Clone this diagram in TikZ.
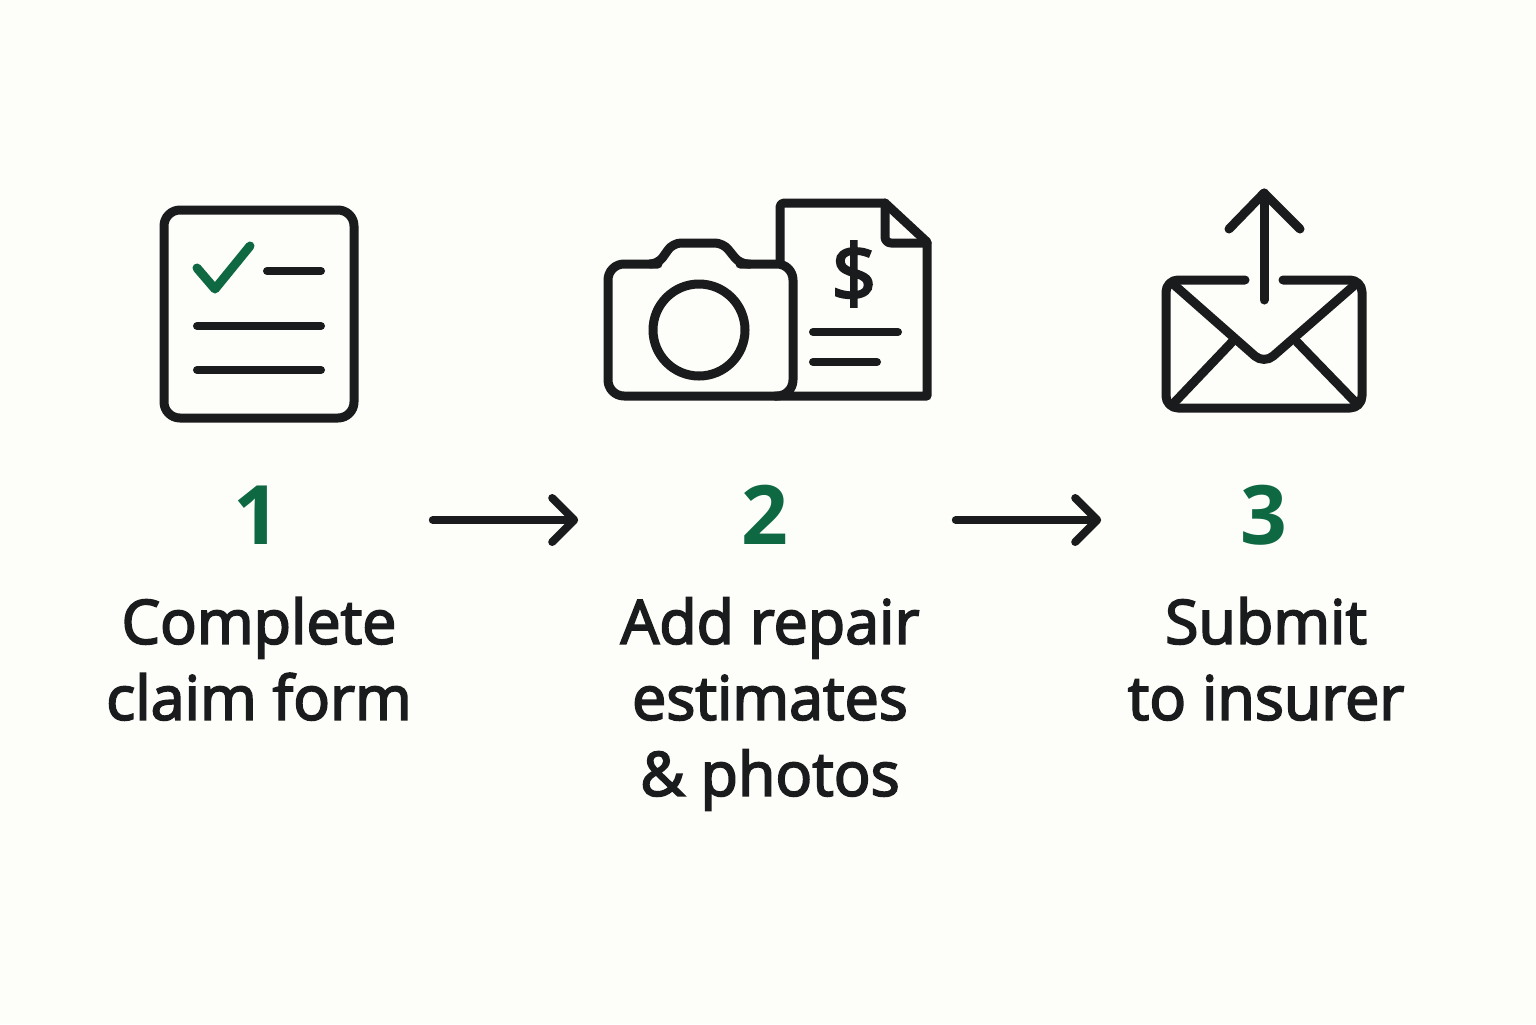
\documentclass[tikz,border=0pt]{standalone}
\usepackage{fontspec}
\usetikzlibrary{arrows.meta}
\setmainfont{Open Sans}
\newfontfamily\labelfont[FakeBold=3]{Open Sans}
\newfontfamily\numberfont{Open Sans}[BoldFont={Open Sans Bold}]
\begin{document}
\begin{tikzpicture}[x=0.5pt, y=-0.5pt,
    icon/.style={inkblack, line width=4.5pt, line cap=round, line join=round},
    rule/.style={icon, line width=4pt},
    stepnum/.style={font=\numberfont\bfseries\fontsize{41}{41}\selectfont, text=stepgreen, inner sep=0pt},
    steptext/.style={font=\labelfont\fontsize{30.5}{38}\selectfont, text=inkblack, align=center, anchor=north, inner sep=0pt},
    flowarrow/.style={inkblack, line width=4pt, line cap=round, -{Straight Barb[length=11pt, width=22pt, line width=4pt, round]}}]
        \definecolor{paper}{RGB}{253,253,250}
        \definecolor{inkblack}{RGB}{26,27,28}
        \definecolor{stepgreen}{RGB}{14,104,66}
        \fill[paper] (0,0) rectangle (1536,1024);
        % form
        \draw[icon, rounded corners=8pt] (164,210) rectangle (354,418);
        \draw[icon, stepgreen] (197,268) -- (215,289) -- (250,246);
        \draw[rule] (267,271) -- (321,271);
        \draw[rule] (197,326) -- (321,326);
        \draw[rule] (197,370) -- (321,370);
        % invoice
        \draw[icon] (780,264) -- (780,207) to[rounded corners=2pt] (780,203) -- (885,203) -- (927,242) -- (927,396) -- (775,396);
        \draw[icon, rounded corners=3pt] (885,203) -- (885,243) -- (927,243);
        \node[font=\labelfont\fontsize{40}{40}\selectfont, text=inkblack, inner sep=0pt] (dollar) at (854,274) {\$};
        \draw[rule] (813,332) -- (898,332);
        \draw[rule] (813,362) -- (877,362);
        % camera
        \draw[icon, rounded corners=8pt] (658,264) -- (608,264) -- (608,396) -- (793,396) -- (793,264) -- (740,264);
        \draw[icon, rounded corners=4pt] (650,264) -- (658,264) -- (673,243) -- (723,243) -- (740,264) -- (750,264);
        \draw[icon] (699,330) circle (46);
        % envelope
        \draw[icon, rounded corners=6pt] (1245,280) -- (1166,280) -- (1166,408) -- (1362,408) -- (1362,280) -- (1283,280);
        \draw[icon, rounded corners=6pt] (1172,283) -- (1264,364) -- (1357,283);
        \draw[icon] (1172,405) -- (1232,342);
        \draw[icon] (1358,405) -- (1297,342);
        \draw[icon] (1264,300) -- (1264,193);
        \draw[icon] (1229,229) -- (1264,193) -- (1300,229);
        % steps
        \node[stepnum] (num1) at (257,515) {1};
        \node[stepnum] (num2) at (765,515) {2};
        \node[stepnum] (num3) at (1264,515) {3};
        \node[steptext] (label1) at (259,597) {Complete\\claim form};
        \node[steptext] (label2) at (770,597) {Add repair\\estimates\\\&\ photos};
        \node[steptext] (label3) at (1266,597) {Submit\\to insurer};
        % arrows
        \draw[flowarrow, shorten <=76pt, shorten >=81.5pt] ([yshift=-2.5pt]num1.east) -- ([yshift=-2.5pt]num2.west);
        \draw[flowarrow, shorten <=83.5pt, shorten >=69.5pt] ([yshift=-2.5pt]num2.east) -- ([yshift=-2.5pt]num3.west);
\end{tikzpicture}
\end{document}
